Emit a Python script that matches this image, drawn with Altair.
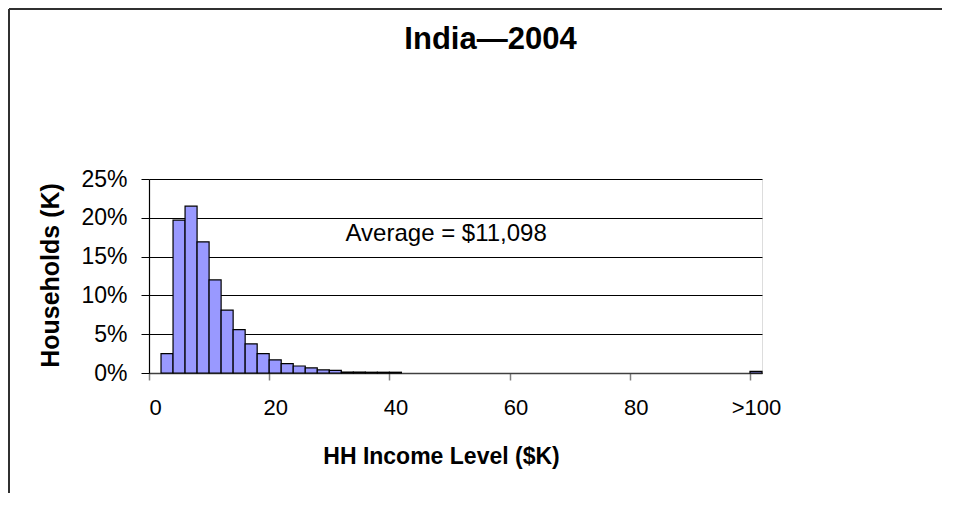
import altair as alt
import pandas as pd

# ---- data ----
bin_start = [2, 4, 6, 8, 10, 12, 14, 16, 18, 20, 22, 24, 26, 28, 30, 32, 34, 36, 38, 40, 100]
bin_width = 2
share_pct = [2.5, 19.7, 21.5, 16.9, 12.0, 8.1, 5.6, 3.75, 2.5, 1.7, 1.2, 0.9, 0.65, 0.4, 0.35,
             0.12, 0.12, 0.1, 0.1, 0.1, 0.2]
x_ticks = [0, 20, 40, 60, 80, 100]
y_ticks = [0, 5, 10, 15, 20, 25]
title_text = "India\u20142004"
x_title = "HH Income Level ($K)"
y_title = "Households (K)"
annotation_text = ["Average = $11,098"]
annotation_x = [32.7]
annotation_y = [17.0]

FONT = "Liberation Sans"
W, H = 613, 194
PAD = {"left": 141, "top": 171, "right": 180, "bottom": 120}

df = pd.DataFrame({
    "start": bin_start,
    "end": [s + bin_width for s in bin_start],
    "share": share_pct,
})
ann = pd.DataFrame({"x": annotation_x, "y": annotation_y, "t": annotation_text})

xscale = alt.Scale(domain=[0, 102], nice=False, zero=False)
yscale = alt.Scale(domain=[0, 25], nice=False)

xaxis = alt.Axis(
    values=x_ticks, title=x_title, grid=False,
    labelExpr="datum.value == 100 ? '>100' : datum.label",
    labelFlush=False, labelOverlap=False, labelOffset=6, labelFontSize=22, labelFont=FONT,
    labelColor="#000000", labelPadding=17, labelBaseline="top",
    tickSize=7, tickColor="#808080", tickWidth=1.5,
    domainColor="#404040", domainWidth=1.5,
    titleFont=FONT, titleFontSize=23, titleFontWeight="bold", titleColor="#000000",
    titleX=292, titleY=90, titleBaseline="alphabetic", titleAlign="center",
)
yaxis = alt.Axis(
    values=y_ticks, title=y_title,
    labelExpr="datum.value + '%'", labelOverlap=False, labelFlush=False,
    labelFontSize=23, labelFont=FONT, labelColor="#000000", labelPadding=14,
    tickSize=8, tickColor="#000000", tickWidth=1,
    domainColor="#000000", domainWidth=1.2,
    grid=True, gridColor="#000000", gridWidth=1, gridOpacity=1,
    titleFont=FONT, titleFontSize=25, titleFontWeight="bold", titleColor="#000000",
    titleX=-91, titleY=96, titleAngle=270, titleBaseline="alphabetic", titleAlign="center",
)

bars = alt.Chart(df).mark_bar(
    fill="#9999FF", stroke="#000000", strokeWidth=1.2
).encode(
    x=alt.X("start:Q", scale=xscale, axis=xaxis),
    x2="end:Q",
    y=alt.Y("share:Q", scale=yscale, axis=yaxis),
    y2=alt.datum(0),
)

text = alt.Chart(ann).mark_text(
    align="left", baseline="alphabetic", font=FONT, fontSize=24, color="#000000"
).encode(
    x=alt.X("x:Q", scale=xscale, axis=xaxis),
    y=alt.Y("y:Q", scale=yscale, axis=yaxis),
    text="t:N",
)

frame_df = pd.DataFrame({"k": [0]})
frame_left = alt.Chart(frame_df).mark_rule(color="#303030", strokeWidth=2).encode(
    x=alt.value(-140), y=alt.value(-170), y2=alt.value(H + PAD["bottom"])
)
frame_top = alt.Chart(frame_df).mark_rule(color="#303030", strokeWidth=2).encode(
    x=alt.value(-140), x2=alt.value(W + PAD["right"]), y=alt.value(-170)
)

chart = alt.layer(frame_left, frame_top, bars, text).properties(
    width=W, height=H,
    autosize=alt.AutoSizeParams(type="none"),
    padding=PAD,
    title=alt.TitleParams(
        title_text, font=FONT, fontSize=31, fontWeight="bold", color="#000000",
        anchor="middle", frame="group", baseline="alphabetic", offset=-72, dx=35,
    ),
).configure_view(
    stroke="#808080", strokeWidth=2
).configure(background="#ffffff")

chart.save("out.html", embed_options={"renderer": "svg", "actions": False})
